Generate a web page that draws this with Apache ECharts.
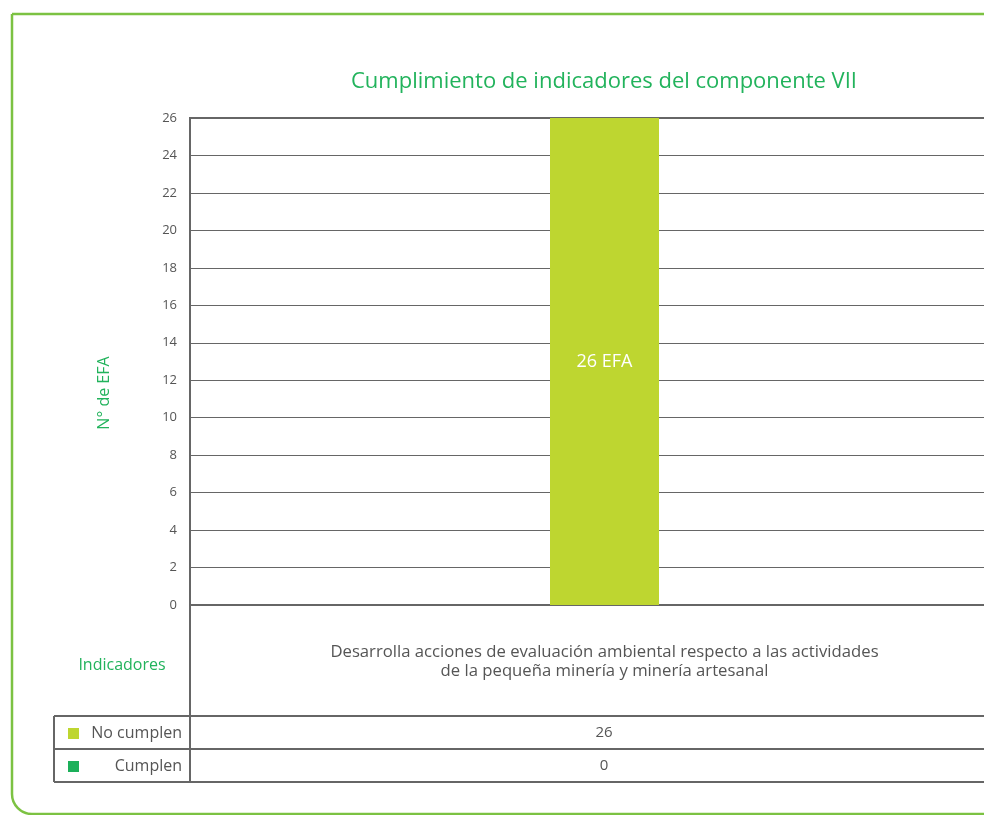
<!DOCTYPE html>
<html>
<head>
<meta charset="utf-8">
<script src="https://cdn.jsdelivr.net/npm/echarts@6/dist/echarts.min.js"></script>
<style>
  html, body { margin: 0; padding: 0; background: #fff; }
  #chart { width: 984px; height: 815px; }
</style>
</head>
<body>
<div id="chart"></div>
<script>
// datos
const categories = ['Desarrolla acciones de evaluación ambiental respecto a las actividades\nde la pequeña minería y minería artesanal']
const seriesNames = ['No cumplen', 'Cumplen']
const noCumplen = [26]
const cumplen = [0]
const colors = ['#bed630', '#1cb05a']

const green = '#22b35c'
const gray = '#555'
const lineColor = '#666'
const font = 'Open Sans'

let chart = echarts.init(document.getElementById('chart'))

// tabla de datos debajo del eje
let tableRows = [noCumplen, cumplen]
let rowTop = [716, 749]
let graphics = [
  // marco verde
  {
    type: 'rect',
    shape: { x: 12, y: 14, width: 1010, height: 800, r: [0, 0, 0, 20] },
    style: { fill: 'none', stroke: '#7cc242', lineWidth: 2.5 },
    silent: true
  },
  {
    type: 'text', x: 104, y: 393, rotation: Math.PI / 2,
    style: { text: 'N° de EFA', fill: green, font: '16px ' + font, align: 'center', verticalAlign: 'middle' }
  },
  {
    type: 'text', x: 122, y: 665,
    style: { text: 'Indicadores', fill: green, font: '16px ' + font, align: 'center', verticalAlign: 'middle' }
  },
  // líneas de la tabla
  { type: 'line', shape: { x1: 190, y1: 605, x2: 190, y2: 782 }, style: { stroke: lineColor, lineWidth: 2 } },
  { type: 'line', shape: { x1: 54, y1: 716, x2: 54, y2: 782 }, style: { stroke: lineColor, lineWidth: 2 } },
  { type: 'line', shape: { x1: 54, y1: 716, x2: 984, y2: 716 }, style: { stroke: lineColor, lineWidth: 2 } },
  { type: 'line', shape: { x1: 54, y1: 749, x2: 984, y2: 749 }, style: { stroke: lineColor, lineWidth: 2 } },
  { type: 'line', shape: { x1: 54, y1: 782, x2: 984, y2: 782 }, style: { stroke: lineColor, lineWidth: 2 } }
]

seriesNames.forEach((name, i) => {
  let y = rowTop[i]
  graphics.push({
    type: 'rect',
    shape: { x: 68, y: y + 12, width: 11, height: 11 },
    style: { fill: colors[i] }
  })
  graphics.push({
    type: 'text', x: 182, y: y + 17,
    style: { text: name, fill: gray, font: '16px ' + font, align: 'right', verticalAlign: 'middle' }
  })
  tableRows[i].forEach(v => {
    graphics.push({
      type: 'text', x: 604, y: y + 17,
      style: { text: String(v), fill: gray, font: '15px ' + font, align: 'center', verticalAlign: 'middle' }
    })
  })
})

let option = {
  animation: false,
  textStyle: { fontFamily: font },
  title: {
    text: 'Cumplimiento de indicadores del componente VII',
    left: 599,
    top: 66,
    textAlign: 'center',
    textStyle: { color: green, fontSize: 22, fontWeight: 'normal', fontFamily: font }
  },
  grid: {
    left: 190,
    top: 118,
    width: 829,
    height: 487,
    outerBoundsMode: 'none',
    show: true,
    borderColor: lineColor,
    borderWidth: 2
  },
  xAxis: {
    type: 'category',
    data: categories,
    axisLine: { show: true, lineStyle: { color: lineColor, width: 2 } },
    axisTick: { show: false },
    axisLabel: {
      color: gray,
      fontSize: 16.7,
      lineHeight: 19,
      margin: 38,
      align: 'center',
      interval: 0
    }
  },
  yAxis: {
    type: 'value',
    min: 0,
    max: 26,
    interval: 2,
    axisLine: { show: true, lineStyle: { color: lineColor, width: 2 } },
    axisTick: { show: false },
    axisLabel: { color: gray, fontSize: 13, margin: 13 },
    splitLine: { show: true, lineStyle: { color: '#666', width: 1 } }
  },
  series: [
    {
      name: seriesNames[0],
      type: 'bar',
      stack: 'total',
      barWidth: 109,
      data: noCumplen,
      itemStyle: { color: colors[0] },
      label: {
        show: true,
        position: 'inside',
        color: '#fff',
        fontSize: 18,
        formatter: p => p.value + ' EFA'
      }
    },
    {
      name: seriesNames[1],
      type: 'bar',
      stack: 'total',
      barWidth: 109,
      data: cumplen,
      itemStyle: { color: colors[1] }
    }
  ],
  graphic: graphics
}

chart.setOption(option)
</script>
</body>
</html>
